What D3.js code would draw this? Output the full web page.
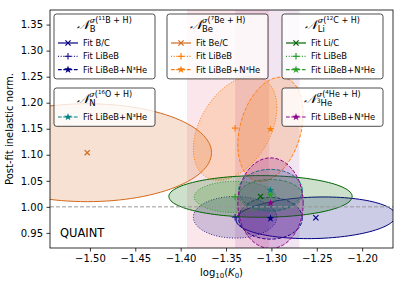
<!DOCTYPE html>
<html>
<head>
<meta charset="utf-8">
<script src="https://cdn.jsdelivr.net/npm/d3@7"></script>
<style>
body { margin: 0; background: #fff; }
svg { display: block; }
text { font-family: "DejaVu Sans", sans-serif; }
</style>
</head>
<body>
<svg id="chart" width="403" height="286"></svg>
<script>
var xTicks = [-1.50, -1.45, -1.40, -1.35, -1.30, -1.25, -1.20];
var yTicks = [0.95, 1.00, 1.05, 1.10, 1.15, 1.20, 1.25, 1.30, 1.35];
var fitLabels = ["C", "Fit LiBeB", "Fit LiBeB+N³He"];   // first one gets "Fit <el>/C"

// one row per fit: [fit index, log10 K0, norm, half width in K0, half height in norm, correlation]
var fitsB  = [[0, -1.251, 0.979, 0.088, 0.040, 0.1],
              [1, -1.340, 0.980, 0.046, 0.040, 0],
              [2, -1.301, 0.978, 0.035, 0.040, 0]];
var fitsBe = [[0, -1.503, 1.104, 0.137, 0.094, 0],
              [1, -1.340, 1.151, 0.046, 0.100, 0.4],
              [2, -1.301, 1.149, 0.036, 0.100, 0.3]];
var fitsLi = [[0, -1.312, 1.020, 0.101, 0.040, 0],
              [1, -1.340, 1.019, 0.045, 0.030, 0],
              [2, -1.301, 1.0225, 0.035, 0.030, 0]];
var fitsN  = [[2, -1.301, 1.032, 0.035, 0.040, 0]];
var fitsHe = [[2, -1.301, 1.007, 0.036, 0.087, 0]];

var bandRanges = [[-1.393, -1.3025], [-1.340, -1.269]];
var refNorm = 1.0;

var groups = [
	{el: "B",  fits: fitsB,  colors: ["#000080", "#27208f", "#000080"], iso: "11", proj: "B",  sub: "B"},
	{el: "Be", fits: fitsBe, colors: ["#d2691e", "#ff7f0e", "#ff7f0e"], iso: "7",  proj: "Be", sub: "Be"},
	{el: "Li", fits: fitsLi, colors: ["#006400", "#2ca02c", "#2ca02c"], iso: "12", proj: "C",  sub: "Li"},
	{el: "N",  fits: fitsN,  colors: ["#008080", "#008080", "#008080"], iso: "16", proj: "O",  sub: "N"},
	{el: "He", fits: fitsHe, colors: ["#8b008b", "#8b008b", "#8b008b"], iso: "4",  proj: "He", sub: "3He"}
];

var svg = d3.select("#chart");
var pL = 50, pR = 393, pT = 10, pB = 248;

var x = d3.scaleLinear().domain([-1.544, -1.166]).range([pL, pR]);
var y = d3.scaleLinear().domain([0.921, 1.378]).range([pB, pT]);

var dashes = [null, "1,1.65", "3.7,1.6"];

svg.append("clipPath").attr("id", "plotclip")
	.append("rect").attr("x", pL).attr("y", pT).attr("width", pR - pL).attr("height", pB - pT);

var plot = svg.append("g").attr("clip-path", "url(#plotclip)");

// vertical bands
var bandColors = ["rgba(220,20,60,0.1)", "rgba(128,0,128,0.1)"];
plot.selectAll("rect.band").data(bandRanges).enter().append("rect")
	.attr("class", "band")
	.attr("x", function(d){ return x(d[0]); })
	.attr("width", function(d){ return x(d[1]) - x(d[0]); })
	.attr("y", pT).attr("height", pB - pT)
	.attr("fill", function(d, i){ return bandColors[i]; });

function ellipsePoints(f){
	var pts = [], n = 120, r = f[5];
	for (var i = 0; i < n; i++){
		var t = 2 * Math.PI * i / n;
		var px = f[1] + f[3] * Math.cos(t);
		var py = f[2] + f[4] * (r * Math.cos(t) + Math.sqrt(1 - r * r) * Math.sin(t));
		pts.push([x(px), y(py)]);
	}
	return pts;
}
var line = d3.line().curve(d3.curveLinearClosed);

function markerPath(kind, s){
	if (kind == 0) return "M" + (-s) + "," + (-s) + "L" + s + "," + s + "M" + (-s) + "," + s + "L" + s + "," + (-s);
	if (kind == 1) return "M" + (-s) + ",0L" + s + ",0M0," + (-s) + "L0," + s;
	return d3.symbol(d3.symbolStar, 19)();
}

function drawMarker(g, kind, cx, cy, color){
	var p = g.append("path").attr("transform", "translate(" + cx + "," + cy + ")");
	if (kind == 2) p.attr("d", markerPath(2)).attr("fill", color);
	else p.attr("d", markerPath(kind, kind == 0 ? 2.6 : 3.3)).attr("fill", "none").attr("stroke", color).attr("stroke-width", 1.2);
}

groups.forEach(function(gr){
	gr.fits.forEach(function(f){
		var c = gr.colors[f[0]];
		plot.append("path")
			.attr("d", line(ellipsePoints(f)))
			.attr("fill", c).attr("fill-opacity", 0.2)
			.attr("stroke", c).attr("stroke-width", 1)
			.attr("stroke-dasharray", dashes[f[0]]);
	});
});
groups.forEach(function(gr){
	gr.fits.forEach(function(f){
		drawMarker(plot, f[0], x(f[1]), y(f[2]), gr.colors[f[0]]);
	});
});

// reference line at norm = 1
plot.append("line")
	.attr("x1", pL).attr("x2", pR)
	.attr("y1", y(refNorm)).attr("y2", y(refNorm))
	.attr("stroke", "#999").attr("stroke-width", 1).attr("stroke-dasharray", "4,2");

// axes
var xAxis = svg.append("g").attr("transform", "translate(0," + pB + ")")
	.call(d3.axisBottom(x).tickValues(xTicks).tickSize(3.5).tickPadding(3.5)
		.tickFormat(function(d){ return d3.format(".2f")(d).replace("-", "\u2212"); }));
var yAxis = svg.append("g").attr("transform", "translate(" + pL + ",0)")
	.call(d3.axisLeft(y).tickValues(yTicks).tickSize(3.5).tickPadding(3.5).tickFormat(d3.format(".2f")));
[xAxis, yAxis].forEach(function(a){
	a.select(".domain").remove();
	a.selectAll("text").attr("font-size", 10).attr("font-family", "DejaVu Sans").attr("fill", "#000");
	a.selectAll("line").attr("stroke", "#000").attr("stroke-width", 0.8);
});

svg.append("rect").attr("x", pL).attr("y", pT).attr("width", pR - pL).attr("height", pB - pT)
	.attr("fill", "none").attr("stroke", "#000").attr("stroke-width", 0.8);

var xl = svg.append("text").attr("x", (pL + pR) / 2).attr("y", 276).attr("text-anchor", "middle").attr("font-size", 10);
xl.append("tspan").text("log");
xl.append("tspan").attr("font-size", 7).attr("dy", 2).text("10");
xl.append("tspan").attr("dy", -2).text("(");
xl.append("tspan").attr("font-style", "italic").text("K");
xl.append("tspan").attr("font-size", 7).attr("dy", 2).text("0");
xl.append("tspan").attr("dy", -2).text(")");

svg.append("text")
	.attr("transform", "translate(13," + ((pT + pB) / 2) + ") rotate(-90)")
	.attr("text-anchor", "middle").attr("font-size", 10)
	.text("Post-fit inelastic norm.");

svg.append("text").attr("x", 60).attr("y", 237).attr("font-size", 11.5).text("QUAINT");

// legends
var legendPos = {B: [54, 14], Be: [167, 14], Li: [282, 14], N: [54, 88], He: [282, 88]};

groups.forEach(function(gr){
	var p = legendPos[gr.el];
	var rows = gr.fits.map(function(f){ return f[0]; });
	var h = 25 + rows.length * 13.3;
	var lg = svg.append("g").attr("transform", "translate(" + p[0] + "," + p[1] + ")");
	lg.append("rect").attr("width", 101).attr("height", h).attr("rx", 2.5)
		.attr("fill", "#fff").attr("fill-opacity", 0.8).attr("stroke", "#222").attr("stroke-width", 0.8);

	// title: N with sigma superscript and element subscript
	var tg = lg.append("g");
	var nT = tg.append("text").attr("x", 0).attr("y", 14.5).attr("font-size", 13)
		.attr("font-family", "DejaVu Serif").attr("font-style", "italic").text("\uD835\uDCA9");
	var wN = nT.node().getComputedTextLength() + 0.5;
	var sp = tg.append("text").attr("x", wN).attr("y", 8.5).attr("font-size", 8);
	sp.append("tspan").attr("font-style", "italic").attr("font-family", "DejaVu Serif").text("σ");
	sp.append("tspan").text("(");
	sp.append("tspan").attr("font-size", 5.5).attr("dy", -3).text(gr.iso);
	sp.append("tspan").attr("dy", 3).text(gr.proj + " + H)");
	var sb = tg.append("text").attr("x", wN).attr("y", 18).attr("font-size", 8.5);
	if (gr.sub == "3He"){
		sb.append("tspan").attr("font-size", 6).attr("dy", -3).text("3");
		sb.append("tspan").attr("dy", 3).text("He");
	} else sb.text(gr.sub);
	var tw = wN + Math.max(sp.node().getComputedTextLength(), sb.node().getComputedTextLength());
	tg.attr("transform", "translate(" + (50.5 - tw / 2) + ",0)");

	rows.forEach(function(k, i){
		var ry = 29 + i * 13.3, c = gr.colors[k];
		lg.append("line").attr("x1", 4).attr("x2", 24).attr("y1", ry).attr("y2", ry)
			.attr("stroke", c).attr("stroke-width", 1.2).attr("stroke-dasharray", dashes[k]);
		drawMarker(lg, k, 14, ry, c);
		lg.append("text").attr("x", 29).attr("y", ry).attr("dy", "0.35em").attr("font-size", 8.4)
			.text(k == 0 ? "Fit " + gr.el + "/C" : fitLabels[k]);
	});
});
</script>
</body>
</html>
